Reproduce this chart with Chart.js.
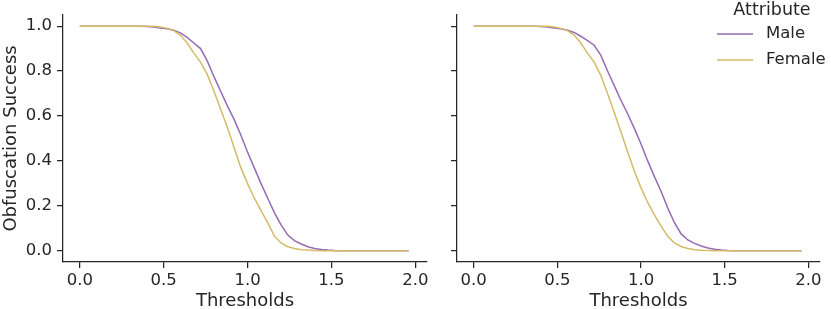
<!DOCTYPE html>
<html>
<head>
<title>Obfuscation Success</title>
<script src="https://cdn.jsdelivr.net/npm/chart.js"></script>
<style>
body { margin: 0; background: #fff; }
#wrap { position: relative; width: 831px; height: 309px; }
#wrap canvas { position: absolute; top: 0; }
</style>
</head>
<body>
<div id="wrap">
    <canvas id="leftChart" width="440" height="309" style="left:0"></canvas>
    <canvas id="rightChart" width="391" height="309" style="left:440px"></canvas>
</div>
<script>
var thresholds = [0.00, 0.04, 0.08, 0.12, 0.16, 0.20, 0.24, 0.28, 0.32, 0.36,
                  0.40, 0.44, 0.48, 0.52, 0.56, 0.60, 0.64, 0.68, 0.72, 0.76,
                  0.80, 0.84, 0.88, 0.92, 0.96, 1.00, 1.04, 1.08, 1.12, 1.16,
                  1.20, 1.24, 1.28, 1.32, 1.36, 1.40, 1.44, 1.48, 1.52, 1.56,
                  1.60, 1.64, 1.68, 1.72, 1.76, 1.80, 1.84, 1.88, 1.92, 1.96];

var maleLeft = [1, 1, 1, 1, 1, 1, 1, 1, 1, 1,
                0.998, 0.996, 0.992, 0.988, 0.982, 0.970, 0.950, 0.925, 0.900, 0.845,
                0.775, 0.710, 0.645, 0.585, 0.515, 0.440, 0.370, 0.300, 0.235, 0.170,
                0.115, 0.070, 0.045, 0.030, 0.018, 0.010, 0.006, 0.003, 0.001, 0,
                0, 0, 0, 0, 0, 0, 0, 0, 0, 0];
var femaleLeft = [1, 1, 1, 1, 1, 1, 1, 1, 1, 1,
                  1, 0.999, 0.996, 0.990, 0.980, 0.960, 0.925, 0.880, 0.840, 0.785,
                  0.710, 0.630, 0.550, 0.460, 0.370, 0.300, 0.235, 0.180, 0.125, 0.065,
                  0.035, 0.018, 0.010, 0.005, 0.003, 0.001, 0, 0, 0, 0,
                  0, 0, 0, 0, 0, 0, 0, 0, 0, 0];

var maleRight = [1, 1, 1, 1, 1, 1, 1, 1, 1, 1,
                 0.998, 0.996, 0.992, 0.988, 0.982, 0.972, 0.955, 0.935, 0.915, 0.870,
                 0.800, 0.735, 0.670, 0.610, 0.545, 0.475, 0.400, 0.330, 0.265, 0.190,
                 0.125, 0.075, 0.048, 0.033, 0.021, 0.012, 0.007, 0.003, 0.001, 0,
                 0, 0, 0, 0, 0, 0, 0, 0, 0, 0];
var femaleRight = [1, 1, 1, 1, 1, 1, 1, 1, 1, 1,
                   1, 0.999, 0.996, 0.990, 0.980, 0.960, 0.925, 0.880, 0.840, 0.780,
                   0.700, 0.615, 0.530, 0.440, 0.355, 0.280, 0.215, 0.160, 0.110, 0.065,
                   0.035, 0.019, 0.010, 0.005, 0.002, 0.001, 0, 0, 0, 0,
                   0, 0, 0, 0, 0, 0, 0, 0, 0, 0];

var xTicks = [0, 0.5, 1, 1.5, 2];
var yTicks = [0, 0.2, 0.4, 0.6, 0.8, 1.0];
var seriesNames = ['Male', 'Female'];
var seriesColors = ['#956cb4', '#d5bb67'];
var legendTitle = 'Attribute';

var ink = '#262626';
Chart.defaults.font.family = 'DejaVu Sans';

function points(values) {
    return thresholds.map(function (t, i) { return { x: t, y: values[i] }; });
}

function makeData(male, female) {
    return {
        datasets: [
            { label: seriesNames[0], data: points(male), borderColor: seriesColors[0], order: 1 },
            { label: seriesNames[1], data: points(female), borderColor: seriesColors[1], order: 0 }
        ]
    };
}

function makeOptions(withLabels, padRight, yWidth) {
    return {
        responsive: false,
        animation: false,
        layout: { padding: { top: 1, right: padRight, left: 0, bottom: 0 } },
        plugins: { legend: { display: false }, tooltip: { enabled: false } },
        elements: { point: { radius: 0 }, line: { borderWidth: 1.5, tension: 0, fill: false } },
        scales: {
            x: {
                type: 'linear', min: -0.1, max: 2.07,
                afterBuildTicks: function (s) { s.ticks = xTicks.map(function (v) { return { value: v }; }); },
                afterFit: function (s) { s.height = 47; },
                grid: { drawOnChartArea: false, tickLength: 6, color: ink, lineWidth: 1.25 },
                border: { color: ink, width: 1.25 },
                ticks: { color: ink, font: { size: 16.5 }, padding: 3, maxRotation: 0,
                         callback: function (v) { return v.toFixed(1); } },
                title: { display: true, text: 'Thresholds', color: ink,
                         font: { size: 18, lineHeight: 0.9 }, padding: 0 }
            },
            y: {
                min: -0.05, max: 1.05,
                afterBuildTicks: function (s) { s.ticks = yTicks.map(function (v) { return { value: v }; }); },
                afterFit: function (s) { s.width = yWidth; },
                grid: { drawOnChartArea: false, tickLength: 6, color: ink, lineWidth: 1.25 },
                border: { color: ink, width: 1.25 },
                ticks: { color: ink, font: { size: 16.5 }, padding: 5,
                         callback: function (v) { return withLabels ? v.toFixed(1) : ''; } },
                title: { display: withLabels, text: 'Obfuscation Success', color: ink,
                         font: { size: 18 }, padding: { top: 1, bottom: 0 } }
            }
        }
    };
}

var legendPlugin = {
    id: 'attrLegend',
    afterDraw: function (chart) {
        var ctx = chart.ctx;
        ctx.save();
        ctx.fillStyle = ink;
        ctx.textBaseline = 'middle';
        ctx.font = '17.5px "DejaVu Sans"';
        ctx.textAlign = 'center';
        ctx.fillText(legendTitle, 332, 10);
        ctx.font = '16.5px "DejaVu Sans"';
        ctx.textAlign = 'left';
        chart.data.datasets.forEach(function (ds, i) {
            var y = 34 + i * 26;
            ctx.strokeStyle = ds.borderColor;
            ctx.lineWidth = 1.5;
            ctx.beginPath();
            ctx.moveTo(277, y);
            ctx.lineTo(313, y);
            ctx.stroke();
            ctx.fillText(ds.label, 326, y);
        });
        ctx.restore();
    }
};

new Chart(document.getElementById('leftChart'), {
    type: 'line',
    data: makeData(maleLeft, femaleLeft),
    options: makeOptions(true, 13, 63)
});

new Chart(document.getElementById('rightChart'), {
    type: 'line',
    data: makeData(maleRight, femaleRight),
    options: makeOptions(false, 11, 17),
    plugins: [legendPlugin]
});
</script>
</body>
</html>
